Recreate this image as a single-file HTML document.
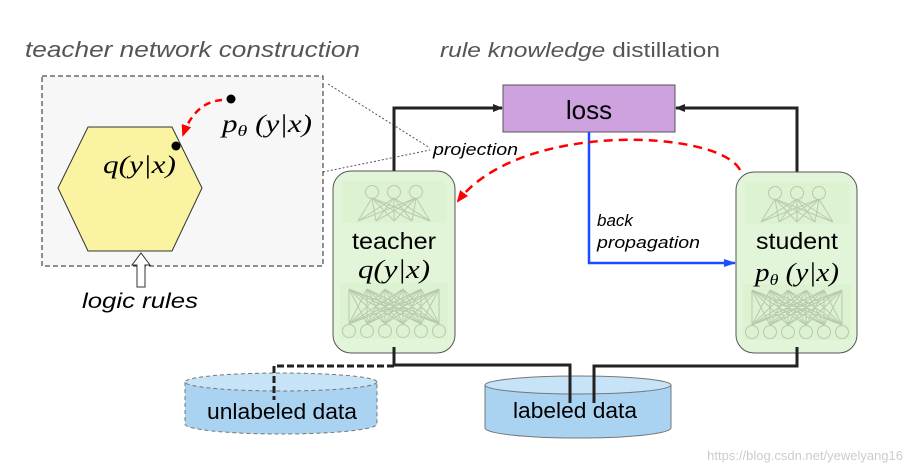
<!DOCTYPE html>
<html><head><meta charset="utf-8"><style>
body{margin:0;background:#fff}
svg{display:block}
.s{font-family:"Liberation Sans",sans-serif}
.m{font-family:"Liberation Serif",serif;font-style:italic}
</style></head><body>
<svg width="908" height="469" viewBox="0 0 908 469" xmlns="http://www.w3.org/2000/svg">
<defs>
<marker id="ab" markerWidth="10" markerHeight="8" refX="9" refY="4" orient="auto" markerUnits="userSpaceOnUse"><path d="M0,0 L10,4 L0,8 Z" fill="#222"/></marker>
<marker id="abl" markerWidth="12" markerHeight="8" refX="11" refY="4" orient="auto" markerUnits="userSpaceOnUse"><path d="M0,0 L12,4 L0,8 Z" fill="#1a4dff"/></marker>
<marker id="ar" markerWidth="12" markerHeight="10" refX="10" refY="5" orient="auto" markerUnits="userSpaceOnUse"><path d="M0,0 L12,5 L0,10 Z" fill="#f00"/></marker>
<g id="net" stroke="#b9c9ad" stroke-width="1" fill="none">
<rect x="-52" y="10" width="104" height="42" fill="#dcf2d0" stroke="none"/>
<rect x="-54" y="112" width="108" height="56" fill="#dcf2d0" stroke="none"/>
<circle cx="-22" cy="21" r="6.5"/><circle cx="0" cy="21" r="6.5"/><circle cx="22" cy="21" r="6.5"/>
<path d="M-22,27L-36,50M-22,27L-18,50M-22,27L0,50M-22,27L18,50M-22,27L36,50M0,27L-36,50M0,27L-18,50M0,27L0,50M0,27L18,50M0,27L36,50M22,27L-36,50M22,27L-18,50M22,27L0,50M22,27L18,50M22,27L36,50"/>
<circle cx="-45" cy="160" r="6.5"/><circle cx="-27" cy="160" r="6.5"/><circle cx="-9" cy="160" r="6.5"/><circle cx="9" cy="160" r="6.5"/><circle cx="27" cy="160" r="6.5"/><circle cx="45" cy="160" r="6.5"/>
<path d="M-45,118L-45,153M-45,118L-27,153M-45,118L-9,153M-45,118L9,153M-45,118L27,153M-45,118L45,153
M-27,118L-45,153M-27,118L-27,153M-27,118L-9,153M-27,118L9,153M-27,118L27,153M-27,118L45,153
M-9,118L-45,153M-9,118L-27,153M-9,118L-9,153M-9,118L9,153M-9,118L27,153M-9,118L45,153
M9,118L-45,153M9,118L-27,153M9,118L-9,153M9,118L9,153M9,118L27,153M9,118L45,153
M27,118L-45,153M27,118L-27,153M27,118L-9,153M27,118L9,153M27,118L27,153M27,118L45,153
M45,118L-45,153M45,118L-27,153M45,118L-9,153M45,118L9,153M45,118L27,153M45,118L45,153"/>
</g>
</defs>

<text x="25" y="57" class="s" font-size="22" font-style="italic" fill="#555" textLength="335" lengthAdjust="spacingAndGlyphs">teacher network construction</text>
<text x="440" y="57" class="s" font-size="20" font-style="italic" fill="#555" textLength="280" lengthAdjust="spacingAndGlyphs">rule knowledge <tspan font-style="normal">distillation</tspan></text>

<!-- left panel -->
<rect x="42" y="76" width="281" height="190" fill="#f7f7f7" stroke="#222" stroke-dasharray="5,3"/>
<polygon points="58,188 88,127 172,127 202,188 172,251 88,251" fill="#f9f3a2" stroke="#333"/>
<text x="103" y="173" class="m" font-size="25" textLength="73" lengthAdjust="spacingAndGlyphs">q(y|x)</text>
<text x="222" y="132" class="m" font-size="25" textLength="90" lengthAdjust="spacingAndGlyphs">p<tspan font-size="16" dy="4">θ</tspan><tspan dy="-4"> (y|x)</tspan></text>
<path d="M222,100 Q195,102 183,135" fill="none" stroke="#f00" stroke-width="2.5" stroke-dasharray="7,5" marker-end="url(#ar)"/>
<circle cx="231" cy="99" r="4.5" fill="#000"/>
<circle cx="176" cy="146" r="4.5" fill="#000"/>
<polygon points="141,253 150,265 145,265 145,287 137,287 137,265 132,265" fill="#fff" stroke="#333"/>
<text x="82" y="308" class="s" font-size="21" font-style="italic" textLength="116" lengthAdjust="spacingAndGlyphs">logic rules</text>
<path d="M328,84 L430,148 M323,172 L430,150" stroke="#555" stroke-dasharray="2,2" fill="none"/>
<text x="433" y="155" class="s" font-size="17" font-style="italic" textLength="85" lengthAdjust="spacingAndGlyphs">projection</text>

<!-- loss -->
<rect x="503" y="85" width="172" height="47" fill="#cda2df" stroke="#555"/>
<text x="589" y="119" class="s" font-size="26" text-anchor="middle">loss</text>
<path d="M394,171 L394,108 L502,108" fill="none" stroke="#222" stroke-width="3" marker-end="url(#ab)"/>
<path d="M797,172 L797,108 L676,108" fill="none" stroke="#222" stroke-width="3" marker-end="url(#ab)"/>
<path d="M589,132 L589,263 L735,263" fill="none" stroke="#1a4dff" stroke-width="2.5" marker-end="url(#abl)"/>
<text x="597" y="226" class="s" font-size="17" font-style="italic">back</text>
<text x="597" y="248" class="s" font-size="17" font-style="italic" textLength="103" lengthAdjust="spacingAndGlyphs">propagation</text>
<path d="M740,170 C720,130 520,120 458,201" fill="none" stroke="#f00" stroke-width="2.5" stroke-dasharray="9,6" marker-end="url(#ar)"/>

<!-- teacher -->
<rect x="333" y="171" width="122" height="182" rx="18" fill="#e3f5d9" stroke="#555"/>
<use href="#net" transform="translate(394,171)"/>
<text x="394" y="249" class="s" font-size="23" text-anchor="middle" textLength="84" lengthAdjust="spacingAndGlyphs">teacher</text>
<text x="394" y="278" class="m" font-size="26" text-anchor="middle" textLength="72" lengthAdjust="spacingAndGlyphs">q(y|x)</text>
<!-- student -->
<rect x="736" y="172" width="121" height="181" rx="18" fill="#e3f5d9" stroke="#555"/>
<use href="#net" transform="translate(797,172)"/>
<text x="797" y="249" class="s" font-size="23" text-anchor="middle" textLength="82" lengthAdjust="spacingAndGlyphs">student</text>
<text x="797" y="281" class="m" font-size="26" text-anchor="middle" textLength="84" lengthAdjust="spacingAndGlyphs">p<tspan font-size="16" dy="4">θ</tspan><tspan dy="-4"> (y|x)</tspan></text>

<!-- cylinders -->
<path d="M185,382 L185,424 A96,10 0 0 0 377,424 L377,382" fill="#a9d3f0" stroke="#777" stroke-dasharray="4,3"/>
<ellipse cx="281" cy="382" rx="96" ry="9" fill="#c6e3f7" stroke="#777" stroke-dasharray="4,3"/>
<text x="282" y="419" class="s" font-size="22" text-anchor="middle" textLength="150" lengthAdjust="spacingAndGlyphs">unlabeled data</text>
<path d="M485,385 L485,428 A93,10 0 0 0 671,428 L671,385" fill="#a9d3f0" stroke="#777"/>
<ellipse cx="578" cy="385" rx="93" ry="9" fill="#c6e3f7" stroke="#777"/>
<text x="575" y="418" class="s" font-size="22" text-anchor="middle" textLength="124" lengthAdjust="spacingAndGlyphs">labeled data</text>

<path d="M394,347 L394,365 L570,365 L570,403" fill="none" stroke="#222" stroke-width="3"/>
<path d="M394,366 L274,366 L274,400" fill="none" stroke="#222" stroke-width="3" stroke-dasharray="7,3"/>
<path d="M594,403 L594,366 L797,366 L797,347" fill="none" stroke="#222" stroke-width="3"/>

<text x="903" y="460" class="s" font-size="13" fill="#ccc" text-anchor="end">https://blog.csdn.net/yewelyang16</text>
</svg>
</body></html>
